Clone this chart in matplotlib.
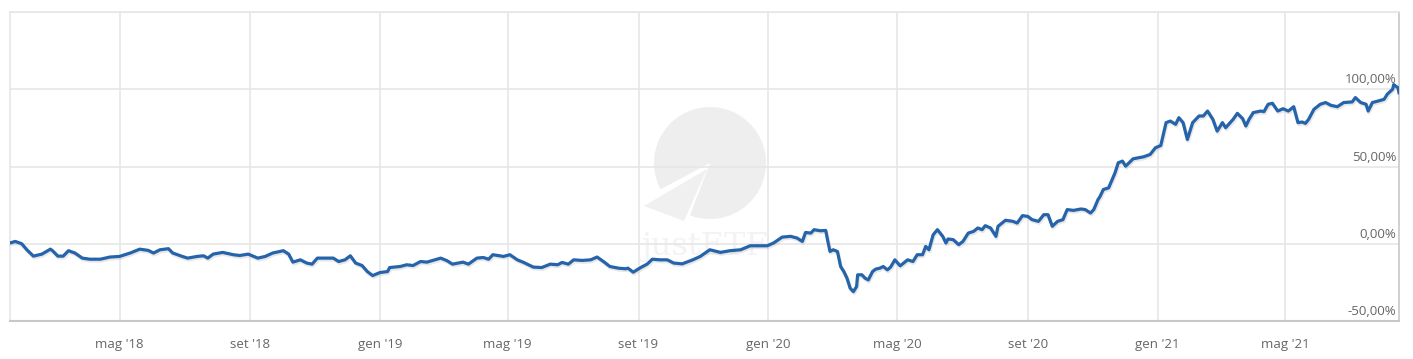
import numpy as np
import pandas as pd
import matplotlib
matplotlib.use("Agg")
import matplotlib.pyplot as plt
import matplotlib.dates as mdates
from matplotlib.patches import Wedge, Polygon

### data: days since 18 Jan 2018, cumulative performance in % ###
start = pd.Timestamp("2018-01-18")
days = [0, 5, 11, 16, 22, 30, 38, 40, 45, 50, 55, 61, 68, 75, 85, 94, 103, 113, 122, 130,
        135, 141, 149, 153, 162, 167, 176, 182, 186, 191, 200, 210, 216, 224, 233, 240, 247, 257, 262, 266,
        273, 279, 284, 289, 296, 304, 309, 315, 320, 325, 331, 336, 341, 348, 355, 357, 367, 373, 379, 386,
        392, 405, 411, 416, 426, 431, 439, 445, 450, 454, 464, 470, 477, 483, 492, 500, 508, 515, 519, 525,
        530, 538, 546, 552, 558, 564, 572, 579, 581, 586, 593, 599, 604, 611, 618, 624, 632, 642, 649, 658,
        668, 677, 687, 696, 704, 712, 718, 726, 734, 740, 745, 748, 753, 756, 762, 767, 769, 771, 774, 778,
        781, 784, 787, 790, 793, 796, 797, 801, 804, 807, 811, 814, 818, 821, 825, 828, 832, 837, 844, 849,
        853, 858, 861, 864, 868, 872, 877, 880, 882, 887, 892, 896, 901, 906, 910, 914, 917, 922, 927, 929,
        936, 943, 947, 952, 957, 961, 967, 972, 976, 980, 985, 990, 994, 1000, 1007, 1011, 1016, 1019, 1023, 1025,
        1028, 1033, 1037, 1039, 1042, 1046, 1049, 1056, 1066, 1072, 1077, 1082, 1087, 1091, 1096, 1099, 1103, 1107, 1112, 1118,
        1122, 1126, 1131, 1135, 1140, 1143, 1150, 1154, 1159, 1162, 1165, 1169, 1176, 1179, 1183, 1187, 1192, 1197, 1202, 1207,
        1211, 1215, 1218, 1221, 1226, 1232, 1237, 1242, 1248, 1254, 1262, 1265, 1270, 1275, 1277, 1281, 1287, 1292, 1295, 1300,
        1301, 1305, 1306]
perf = [0.5, 1.5, 0.0, -4.0, -8.0, -6.7, -3.5, -4.5, -8.0, -8.0, -4.5, -6.0, -9.3, -10.0, -10.0, -8.6, -8.2, -6.0, -3.5, -4.3,
        -6.0, -3.9, -3.2, -6.0, -8.2, -9.3, -8.2, -7.8, -9.3, -6.7, -5.6, -7.1, -7.6, -6.7, -9.3, -8.2, -6.0, -4.5, -6.7, -11.9,
        -10.4, -12.5, -13.2, -9.3, -9.3, -9.3, -11.5, -10.4, -7.8, -12.5, -14.1, -18.0, -20.6, -18.6, -18.0, -15.4, -14.7, -13.6, -14.1, -11.5,
        -11.9, -9.3, -11.0, -13.2, -11.9, -13.2, -9.3, -8.9, -10.0, -7.1, -8.2, -7.1, -10.4, -12.1, -15.1, -15.4, -13.2, -13.6, -12.1, -13.2,
        -10.4, -10.8, -10.4, -8.6, -11.5, -14.7, -15.8, -16.2, -15.8, -18.4, -15.4, -13.2, -10.0, -10.4, -10.4, -12.5, -13.0, -10.4, -8.2, -3.9,
        -5.6, -4.5, -3.9, -1.3, -1.3, -1.3, 0.5, 4.3, 4.8, 3.7, 1.5, 7.3, 6.9, 9.1, 8.4, 8.6, 1.5, -5.0, -3.9, -5.0,
        -14.7, -18.0, -22.3, -28.8, -31.0, -27.7, -20.1, -20.1, -22.3, -23.4, -18.0, -16.4, -15.8, -14.7, -16.9, -15.1, -10.4, -14.3, -10.4, -11.5,
        -7.1, -7.1, -1.7, -3.9, 5.8, 9.1, 4.8, 0.5, 3.1, 2.6, -0.6, 1.5, 6.9, 8.0, 10.2, 9.1, 11.7, 10.2, 4.8, 11.3,
        15.2, 14.5, 13.4, 18.2, 17.7, 15.6, 14.5, 18.8, 18.8, 11.3, 14.5, 15.6, 22.1, 21.6, 22.5, 22.1, 19.9, 22.1, 28.6, 30.7,
        35.1, 36.2, 42.6, 45.9, 52.4, 53.5, 50.2, 55.0, 56.3, 57.8, 62.1, 63.6, 78.4, 79.4, 77.3, 81.6, 78.4, 67.5, 78.4, 82.7,
        82.7, 85.9, 80.5, 72.9, 78.4, 75.1, 80.5, 84.4, 81.0, 76.2, 80.5, 84.9, 85.9, 85.5, 90.3, 90.9, 85.9, 87.4, 85.9, 88.7,
        78.4, 78.8, 77.9, 80.5, 87.0, 90.3, 91.4, 89.6, 88.7, 91.4, 91.8, 94.6, 91.4, 90.3, 85.9, 91.4, 92.5, 93.5, 96.8, 100.0,
        103.0, 101.0, 97.8]

ytick_vals = [-50, 0, 50, 100]
ytick_labels = ["-50,00%", "0,00%", "50,00%", "100,00%"]
mesi = {1: "gen", 5: "mag", 9: "set"}

dates = start + pd.to_timedelta(days, unit="D")

### figure ###
plt.rcParams['font.family'] = ['Open Sans', 'DejaVu Sans']
fig = plt.figure(figsize=(14.13, 3.59), dpi=100)
W, H = 1413, 359

# watermark logo behind the chart, drawn in pixel units
logo = fig.add_axes([640 / W, 89 / H, 140 / W, 170 / H])
logo.set_xlim(640, 780)
logo.set_ylim(89, 259)
logo.axis("off")
logo.add_patch(Wedge((710, 196), 56, 249, 208, color="#eeeeee", lw=0))
logo.add_patch(Polygon([[707, 190], [644, 153], [684, 138]], closed=True, color="#f0f0f0", lw=0))
logo.text(705, 113, "justETF", ha="center", va="center", fontsize=23,
          family="DejaVu Serif", color="#f3f3f3")

ax = fig.add_axes([10 / W, (359 - 321) / H, 1389 / W, 309 / H])
ax.set_facecolor("none")

ax.plot(dates, perf, color="#bbbbbb", lw=2.6, alpha=0.35, zorder=2,
        transform=ax.transData + matplotlib.transforms.ScaledTranslation(0.6 / 72, -1.2 / 72, fig.dpi_scale_trans))
ax.plot(dates, perf, color="#2563ab", lw=2.3, zorder=3, solid_joinstyle="round")

ax.set_xlim(start, start + pd.Timedelta(days=1306))
ax.set_ylim(-50, 150)

ax.xaxis.set_major_locator(mdates.MonthLocator(bymonth=[1, 5, 9]))
ax.xaxis.set_major_formatter(plt.FuncFormatter(
    lambda x, pos: "%s '%s" % (mesi[mdates.num2date(x).month], mdates.num2date(x).strftime("%y"))))
ax.set_yticks(ytick_vals + [150])
ax.set_yticklabels([])
ax.tick_params(axis="y", length=0)
ax.tick_params(axis="x", length=0, pad=12, labelsize=9.5, labelcolor="#666666")
ax.grid(True, color="#e6e6e6", lw=1.2)
ax.set_axisbelow(True)

for s in ["top", "left"]:
    ax.spines[s].set_color("#e6e6e6")
    ax.spines[s].set_linewidth(1.2)
ax.spines["right"].set_color("#c8c8c8")
ax.spines["right"].set_linewidth(1.2)
ax.spines["bottom"].set_color("#c8c8c8")
ax.spines["bottom"].set_linewidth(1.5)

for v, lab in zip(ytick_vals, ytick_labels):
    ax.annotate(lab, xy=(1, v), xycoords=("axes fraction", "data"), xytext=(-2, 2),
                textcoords="offset points", ha="right", va="bottom", fontsize=9.5, color="#666666")

fig.savefig("out.png", dpi=100, facecolor="white")
